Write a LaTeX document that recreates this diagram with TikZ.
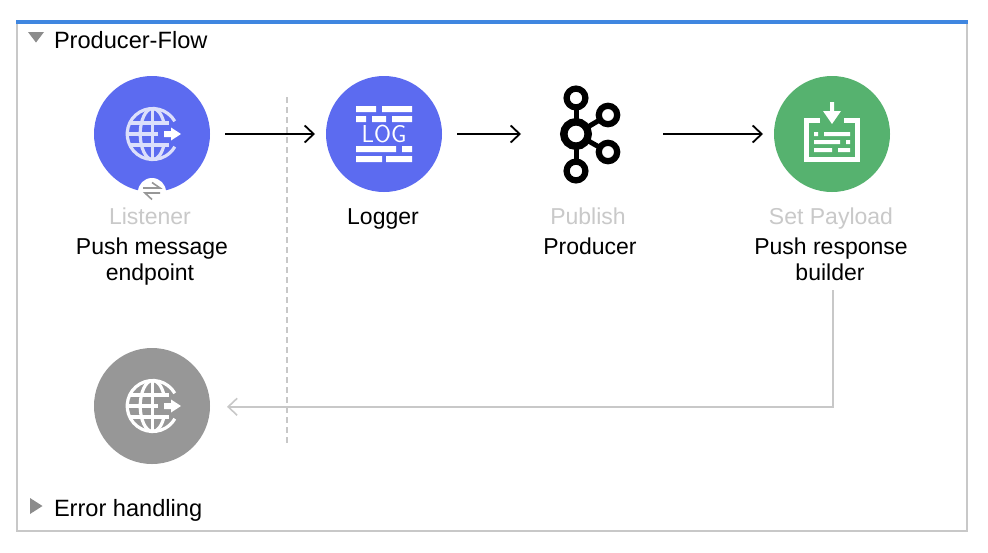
\documentclass[tikz,border=0pt]{standalone}
\usepackage{fontspec}
\setmainfont{Liberation Sans}
\usetikzlibrary{arrows.meta}
\definecolor{flowblue}{HTML}{5C6BF0}
\definecolor{flowgreen}{HTML}{56B26F}
\definecolor{flowgrey}{HTML}{979797}
\definecolor{paleglobe}{HTML}{DCDFFB}
\definecolor{topblue}{HTML}{3F86E0}
\definecolor{frameline}{HTML}{C8C8C8}
\definecolor{greylabel}{HTML}{C9C9C9}
\definecolor{twisty}{HTML}{8C8C8C}
\tikzset{
  opcircle/.style={circle,minimum size=116pt,inner sep=0pt,outer sep=0pt,fill=#1},
  lbl/.style={anchor=base,inner sep=0pt,outer sep=0pt,font=\fontsize{23}{26}\selectfont,text=black},
  lblgrey/.style={lbl,text=greylabel},
  title/.style={lbl,anchor=base west,font=\fontsize{23.6}{26}\selectfont},
  flowarrow/.style={draw=black,line width=1.8pt,-{Straight Barb[length=9pt,width=17pt,line width=1.8pt]}},
  backarrow/.style={draw=frameline,line width=1.6pt,-{Straight Barb[length=9pt,width=17pt,line width=1.6pt]}},
  kring/.style={draw=black,line width=6.2pt,fill=white},
  kstem/.style={draw=black,line width=5pt},
  whitebar/.style={fill=white,draw=none}
}
\newcommand{\globeicon}[4]{%
  \begin{scope}[shift={(#1,#2)},y=1pt]
    \begin{scope}[draw=#3,line width=3.2pt,fill=none]
      \draw (22.08,12.75) arc[start angle=30,end angle=330,radius=25.5];
      \draw (0,25.5) arc[start angle=90,end angle=270,x radius=12.5,y radius=25.5];
      \draw (0,25.5) arc[start angle=90,end angle=22,x radius=12.5,y radius=25.5];
      \draw (0,-25.5) arc[start angle=-90,end angle=-22,x radius=12.5,y radius=25.5];
      \draw (0,25.5) -- (0,-25.5);
      \draw (-23,11) -- (16,11);
      \draw (-23,-11) -- (16,-11);
      \draw (-25.5,0) -- (5,0);
    \end{scope}
    \fill[#4] (11.3,3) -- (18.3,3) -- (18.3,6.5) -- (28.3,0) -- (18.3,-6.5) -- (18.3,-3) -- (11.3,-3) -- cycle;
  \end{scope}}
\begin{document}
\begin{tikzpicture}[x=1pt,y=-1pt]
\useasboundingbox (0,0) rectangle (988,552);
\fill[white] (0,0) rectangle (988,552);
% frame
\draw[frameline,line width=2pt] (17,22) -- (17,531) -- (967,531) -- (967,22);
\fill[topblue] (16,20) rectangle (968,24);
\fill[twisty] (28,32) -- (44,32) -- (36,42.5) -- cycle;
\fill[twisty] (30,498) -- (42.5,506) -- (30,514) -- cycle;
\node[title] (flowtitle) at (54,48) {Producer-Flow};
\node[title] (errtitle) at (54,516) {Error handling};
% dashed divider
\draw[frameline,line width=1.6pt,dash pattern=on 6pt off 4pt] (287,97) -- (287,443);
% nodes
\node[opcircle=flowblue] (listener) at (152,134) {};
\node[opcircle=flowblue] (logger) at (384,134) {};
\node[opcircle=flowgreen] (payload) at (832,134) {};
\node[opcircle=flowgrey] (response) at (152,406) {};
\node[minimum width=62pt,minimum height=86pt,inner sep=0pt,outer sep=0pt] (kafka) at (589,134) {};
% globe icons
\globeicon{152.7}{134}{paleglobe}{white}
\globeicon{152.7}{406}{white}{white}
% badge
\fill[white] (152,192) circle[radius=14];
\draw[flowgrey,line width=1.6pt] (143,188) -- (160,188) -- (152,182.5);
\draw[flowgrey,line width=1.6pt] (160,193) -- (145,193) -- (152,199.5);
% log icon
\fill[whitebar] (356,106) rectangle (376,112) (382,106) rectangle (412,112);
\fill[whitebar] (356,116) rectangle (366,122) (372,116) rectangle (386,122) (392,116) rectangle (412,122);
\fill[whitebar] (356,146) rectangle (396,152) (402,146) rectangle (412,152);
\fill[whitebar] (356,156) rectangle (382,162) (386,156) rectangle (412,162);
\node[inner sep=0pt,text=white,font=\sffamily\fontsize{24.5}{24.5}\selectfont] (logword) at (384,134) {LOG};
% kafka icon
\draw[kstem] (576,98) -- (576,171);
\draw[kstem] (576,134) -- (608,115);
\draw[kstem] (576,134) -- (608,152);
\draw[kring] (576,98) circle[radius=9.4];
\draw[kring] (576,171) circle[radius=9.4];
\draw[kring] (608,115) circle[radius=9.2];
\draw[kring] (608,152) circle[radius=9.2];
\draw[draw=black,line width=7.5pt,fill=white] (576,134) circle[radius=12.2];
% payload icon
\draw[white,line width=5pt] (820,120.5) -- (806.5,120.5) -- (806.5,159.5) -- (857.5,159.5) -- (857.5,120.5) -- (844,120.5);
\fill[white] (830,102) -- (834,102) -- (834,111) -- (841,111) -- (832,124) -- (823,111) -- (830,111) -- cycle;
\fill[whitebar] (814,132) rectangle (818,136) (824,132) rectangle (850,136);
\fill[whitebar] (814,140) rectangle (840,144) (846,140) rectangle (850,144);
\fill[whitebar] (814,148) rectangle (832,152) (838,148) rectangle (850,152);
% labels
\node[lblgrey] (lname) at (150,224) {Listener};
\node[lbl] (ldesc1) at (152,254) {Push message};
\node[lbl] (ldesc2) at (150,280) {endpoint};
\node[lbl] (logname) at (383,224) {Logger};
\node[lblgrey] (pubname) at (588,224) {Publish};
\node[lbl] (pubdesc) at (590,254) {Producer};
\node[lblgrey] (payname) at (831,224) {Set Payload};
\node[lbl] (paydesc1) at (831,254) {Push response};
\node[lbl] (paydesc2) at (830,280) {builder};
% connectors
\draw[flowarrow,shorten <=15pt,shorten >=11pt] (listener) -- (logger);
\draw[flowarrow,shorten <=15pt,shorten >=37pt] (logger) -- (kafka);
\draw[flowarrow,shorten <=43pt,shorten >=11pt] (kafka) -- (payload);
\draw[backarrow,shorten <=10pt,shorten >=17pt] ([xshift=1pt]payload |- paydesc2.south) |- ([yshift=-.8pt]response.east);
\end{tikzpicture}
\end{document}
